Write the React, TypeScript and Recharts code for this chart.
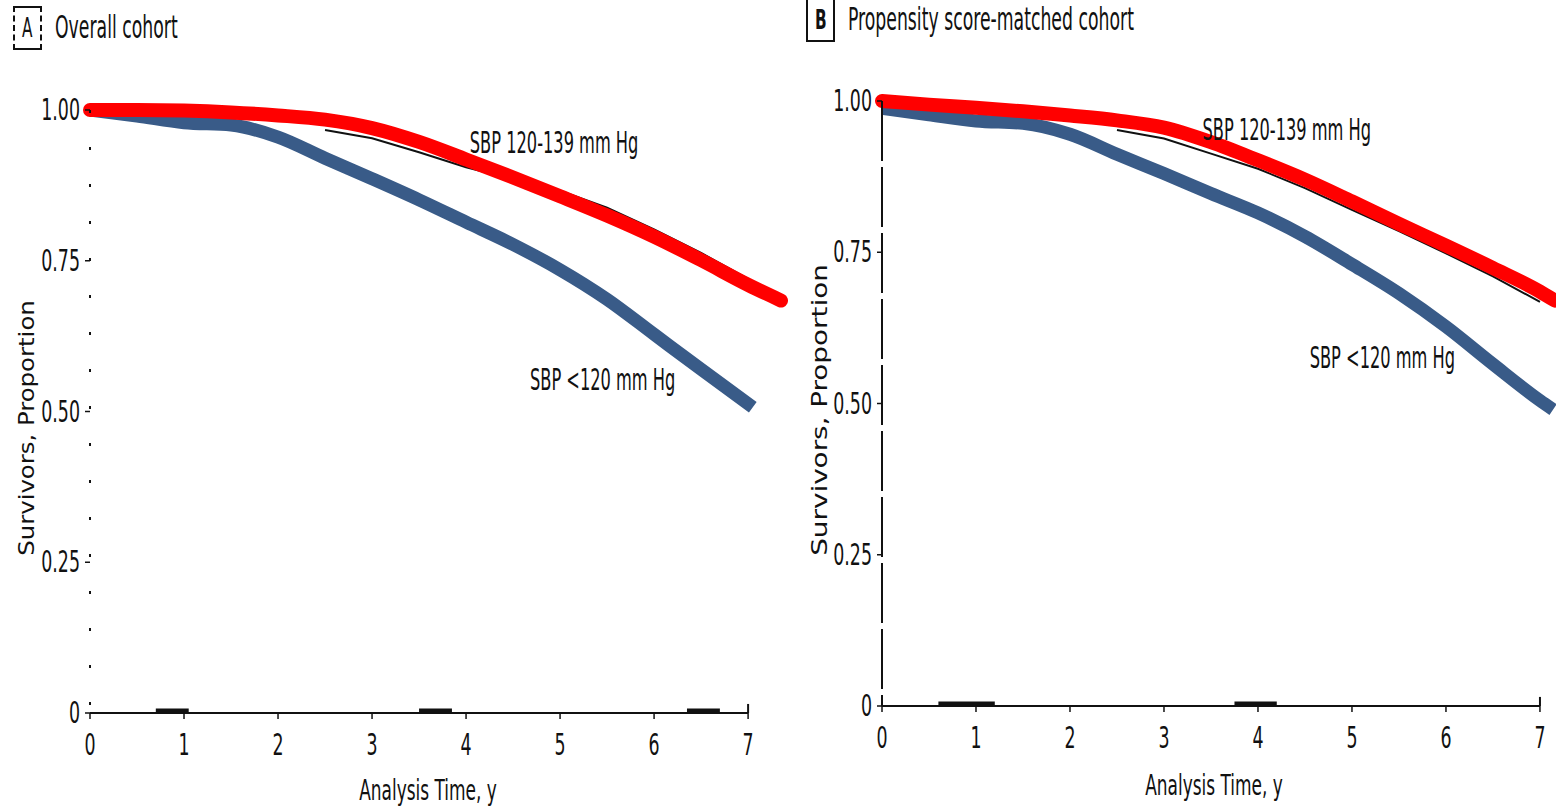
import React from 'react';
import { LineChart, Line, XAxis, YAxis, ReferenceLine, ReferenceDot } from 'recharts';

const FONT = "'Liberation Sans Narrow', 'DejaVu Sans Condensed', 'Arial Narrow', sans-serif";
const INK = '#111';
const RED = '#ff0000';
const BLUE = '#395b88';
const STRETCH = 1.35;
const NARROW = 0.82;

const YEAR_TICKS = [0, 1, 2, 3, 4, 5, 6, 7];
const SURV_TICKS = [0, 0.25, 0.5, 0.75, 1];

// Panel A: overall cohort
const aRedYears = [0, 0.5, 1, 1.5, 2, 2.5, 3, 3.5, 4, 4.5, 5, 5.5, 6, 6.5, 7, 7.35];
const aRedSurv = [1.0, 1.0, 0.999, 0.996, 0.991, 0.984, 0.97, 0.947, 0.918, 0.888, 0.857, 0.825, 0.79, 0.751, 0.71, 0.684];
const aBlueYears = [0, 0.5, 1, 1.5, 2, 2.5, 3, 3.5, 4, 4.5, 5, 5.5, 6, 6.5, 7.05];
const aBlueSurv = [1.0, 0.99, 0.979, 0.975, 0.955, 0.92, 0.886, 0.851, 0.814, 0.777, 0.735, 0.686, 0.628, 0.57, 0.507];
const aKmYears = [2.5, 3, 3.5, 4, 4.5, 5, 5.5, 6, 6.5, 7];
const aKmSurv = [0.967, 0.953, 0.93, 0.905, 0.885, 0.866, 0.838, 0.802, 0.763, 0.72];
const aCensor = [[0.7, 1.05], [3.5, 3.85], [6.35, 6.7]];

// Panel B: propensity score-matched cohort
const bRedYears = [0, 0.5, 1, 1.5, 2, 2.5, 3, 3.5, 4, 4.5, 5, 5.5, 6, 6.5, 7, 7.16];
const bRedSurv = [1.0, 0.994, 0.989, 0.983, 0.976, 0.968, 0.956, 0.932, 0.902, 0.87, 0.834, 0.797, 0.761, 0.724, 0.685, 0.67];
const bBlueYears = [0, 0.5, 1, 1.5, 2, 2.5, 3, 3.5, 4, 4.5, 5, 5.5, 6, 6.5, 7, 7.14];
const bBlueSurv = [0.988, 0.977, 0.967, 0.963, 0.945, 0.912, 0.88, 0.847, 0.815, 0.776, 0.73, 0.682, 0.627, 0.565, 0.505, 0.49];
const bKmYears = [2.5, 3, 3.5, 4, 4.5, 5, 5.5, 6, 6.5, 7];
const bKmSurv = [0.952, 0.938, 0.913, 0.888, 0.856, 0.82, 0.785, 0.748, 0.71, 0.668];
const bCensor = [[0.6, 1.2], [3.75, 4.2]];

const HIGH_LABEL = 'SBP 120-139 mm Hg';
const LOW_LABEL = 'SBP <120 mm Hg';
const aNotes = [
  { t: 4.04, s: 0.945, text: HIGH_LABEL },
  { t: 4.68, s: 0.552, text: LOW_LABEL },
];
const bNotes = [
  { t: 3.41, s: 0.952, text: HIGH_LABEL },
  { t: 4.55, s: 0.575, text: LOW_LABEL },
];

const toPoints = (years: number[], surv: number[]) => years.map((t, i) => ({ t, s: surv[i] }));

function TallText({ x, y, anchor = 'middle', size = 22, sx = NARROW, children }: any) {
  return (
    <text
      transform={`translate(${x},${y}) scale(${sx},${STRETCH})`}
      textAnchor={anchor}
      dominantBaseline="central"
      fontFamily={FONT}
      fontSize={size}
      fill={INK}
    >
      {children}
    </text>
  );
}

const XTick = (props: any) => (
  <TallText x={props.x} y={props.y + 24} sx={0.88}>{props.payload.value}</TallText>
);

const YTick = (props: any) => {
  const v = props.payload.value;
  return (
    <TallText x={props.x - 3} y={props.y} anchor="end" sx={0.88}>
      {v === 0 ? '0' : v.toFixed(2)}
    </TallText>
  );
};

interface PanelProps {
  left: number;
  width: number;
  margin: { top: number; right: number; bottom: number; left: number };
  red: { t: number; s: number }[];
  blue: { t: number; s: number }[];
  km: { t: number; s: number }[];
  censor: number[][];
  notes: { t: number; s: number; text: string }[];
  axisDash: string;
}

function SurvivalPanel({ left, width, margin, red, blue, km, censor, notes, axisDash }: PanelProps) {
  return (
    <div style={{ position: 'absolute', left, top: 0 }}>
      <LineChart width={width} height={810} margin={margin}>
        <XAxis
          type="number"
          dataKey="t"
          domain={[0, 'dataMax']}
          ticks={YEAR_TICKS}
          axisLine={false}
          tickLine={{ stroke: INK, strokeWidth: 1.5 }}
          tickSize={6}
          tick={<XTick />}
          height={60}
        />
        <YAxis
          type="number"
          dataKey="s"
          domain={[0, 1]}
          ticks={SURV_TICKS}
          width={60}
          axisLine={{ stroke: INK, strokeWidth: 2, strokeDasharray: axisDash }}
          tickLine={{ stroke: INK, strokeWidth: 1.5 }}
          tickSize={5}
          tick={<YTick />}
        />
        <ReferenceLine segment={[{ x: 0, y: 0 }, { x: 7, y: 0 }]} stroke={INK} strokeWidth={2} ifOverflow="visible" />
        <ReferenceLine segment={[{ x: 7, y: 0 }, { x: 7, y: 0.015 }]} stroke={INK} strokeWidth={2} ifOverflow="visible" />
        {censor.map(([a, b], i) => (
          <ReferenceLine key={i} segment={[{ x: a, y: 0.004 }, { x: b, y: 0.004 }]} stroke={INK} strokeWidth={4} ifOverflow="visible" />
        ))}
        <Line data={km} dataKey="s" type="linear" stroke={INK} strokeWidth={2} dot={false} isAnimationActive={false} />
        <Line data={blue} dataKey="s" type="monotone" stroke={BLUE} strokeWidth={13} dot={false} isAnimationActive={false} />
        <Line data={red} dataKey="s" type="monotone" stroke={RED} strokeWidth={14} strokeLinecap="round" dot={false} isAnimationActive={false} />
        {notes.map((n) => (
          <ReferenceDot
            key={n.text}
            x={n.t}
            y={n.s}
            r={0}
            ifOverflow="visible"
            shape={(p: any) => <TallText x={p.cx} y={p.cy} anchor="start">{n.text}</TallText>}
          />
        ))}
      </LineChart>
    </div>
  );
}

const textBase: React.CSSProperties = {
  position: 'absolute',
  fontFamily: FONT,
  color: INK,
  lineHeight: 1,
  whiteSpace: 'nowrap',
};

function PanelTag({ left, top, letter, dashed }: { left: number; top: number; letter: string; dashed: boolean }) {
  const side = `2px ${dashed ? 'dashed' : 'solid'} ${INK}`;
  return (
    <div
      style={{
        ...textBase,
        left,
        top,
        width: 25,
        height: 40,
        borderTop: `2px solid ${INK}`,
        borderBottom: `2px solid ${INK}`,
        borderLeft: side,
        borderRight: side,
        display: 'flex',
        alignItems: 'center',
        justifyContent: 'center',
        fontSize: 20,
        fontWeight: dashed ? 400 : 700,
      }}
    >
      <span style={{ transform: `scale(0.85,${STRETCH})` }}>{letter}</span>
    </div>
  );
}

function Caption({ x, y, size, children }: any) {
  return (
    <div style={{ ...textBase, left: x, top: y, fontSize: size, transform: `translateY(-50%) scale(0.8,1.3)`, transformOrigin: 'left center' }}>
      {children}
    </div>
  );
}

function XTitle({ cx, cy }: { cx: number; cy: number }) {
  return (
    <div style={{ ...textBase, left: cx, top: cy, fontSize: 23, transform: `translate(-50%,-50%) scale(${NARROW},1.25)` }}>
      Analysis Time, y
    </div>
  );
}

function YTitle({ cx, cy, stretch }: { cx: number; cy: number; stretch: number }) {
  return (
    <div style={{ ...textBase, left: cx, top: cy, fontSize: 24, transform: `translate(-50%,-50%) rotate(-90deg) scale(${stretch},0.9)` }}>
      Survivors, Proportion
    </div>
  );
}

export default function App() {
  return (
    <div style={{ position: 'absolute', left: 0, top: 0, width: 1556, height: 810, background: '#fff', overflow: 'hidden' }}>
      <PanelTag left={13} top={6} letter="A" dashed />
      <Caption x={55} y={28} size={24}>Overall cohort</Caption>
      <PanelTag left={806} top={-2} letter="B" dashed={false} />
      <Caption x={848} y={20} size={24}>Propensity score-matched cohort</Caption>

      <SurvivalPanel
        left={0}
        width={800}
        margin={{ top: 110, right: 19, bottom: 37, left: 30 }}
        red={toPoints(aRedYears, aRedSurv)}
        blue={toPoints(aBlueYears, aBlueSurv)}
        km={toPoints(aKmYears, aKmSurv)}
        censor={aCensor}
        notes={aNotes}
        axisDash="3 34"
      />
      <SurvivalPanel
        left={790}
        width={766}
        margin={{ top: 101, right: 1, bottom: 44, left: 32 }}
        red={toPoints(bRedYears, bRedSurv)}
        blue={toPoints(bBlueYears, bBlueSurv)}
        km={toPoints(bKmYears, bKmSurv)}
        censor={bCensor}
        notes={bNotes}
        axisDash="60 6"
      />

      <XTitle cx={428} cy={791} />
      <XTitle cx={1214} cy={786} />
      <YTitle cx={27} cy={428} stretch={1.13} />
      <YTitle cx={820} cy={410} stretch={1.29} />
    </div>
  );
}
